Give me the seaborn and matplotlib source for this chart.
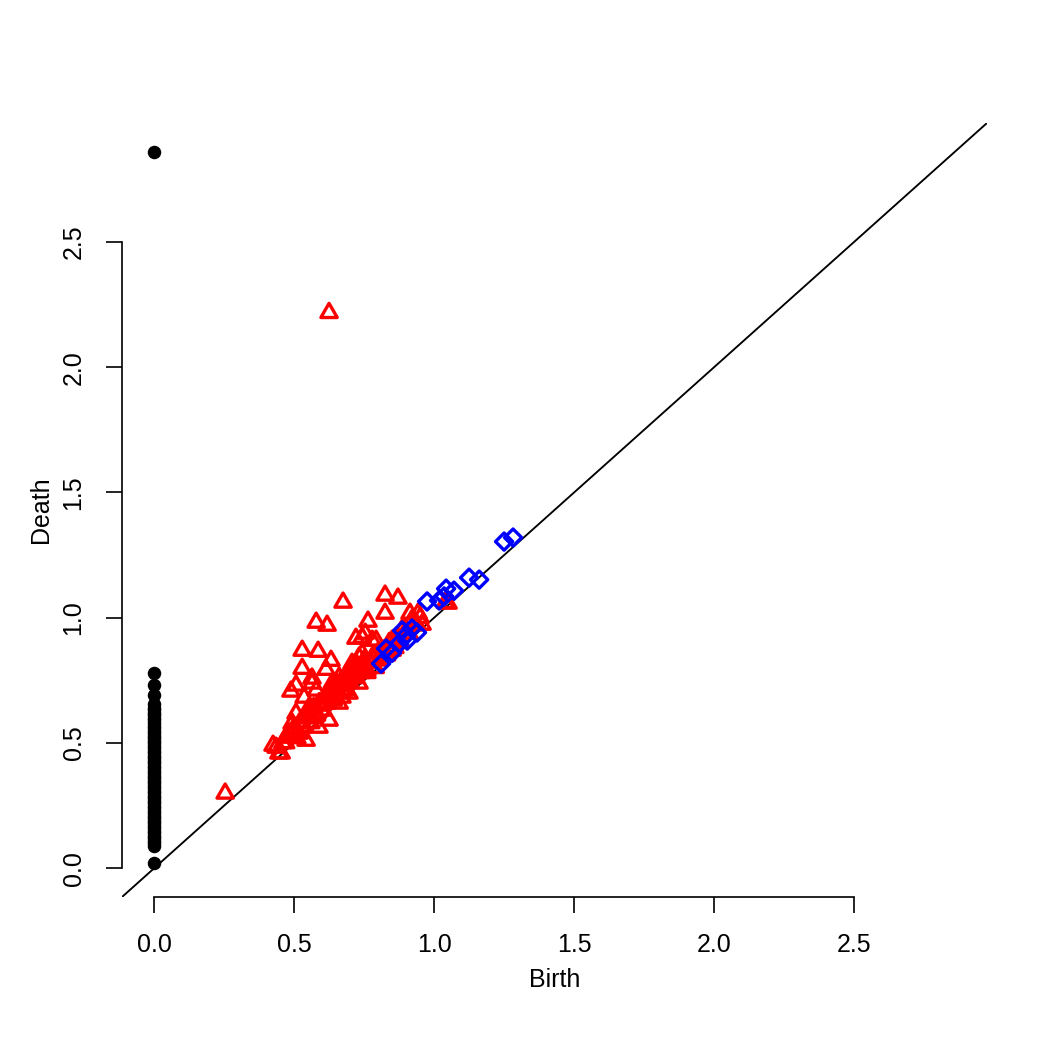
import matplotlib
matplotlib.use("Agg")
import matplotlib.pyplot as plt
from matplotlib.path import Path
import numpy as np
import pandas as pd
import seaborn as sns

# ---- data: persistence diagram (birth, death) ----
# dimension 0 (black dots), all born at 0
dim0_death = [2.86, 0.78, 0.73, 0.69, 0.655, 0.64, 0.63, 0.62, 0.61, 0.60,
              0.59, 0.58, 0.57, 0.56, 0.55, 0.54, 0.53, 0.52, 0.51, 0.50,
              0.49, 0.48, 0.47, 0.46, 0.45, 0.44, 0.43, 0.42, 0.41, 0.40,
              0.39, 0.38, 0.37, 0.36, 0.35, 0.34, 0.33, 0.32, 0.31, 0.30,
              0.29, 0.28, 0.27, 0.26, 0.25, 0.24, 0.23, 0.22, 0.21, 0.20,
              0.19, 0.18, 0.17, 0.16, 0.15, 0.14, 0.13, 0.12, 0.11, 0.10,
              0.09, 0.02]
dim0_birth = [0.0] * len(dim0_death)

# dimension 1 (red triangles)
dim1_birth = [0.625, 0.254, 0.675, 0.579, 0.618, 0.825, 0.871, 0.764, 0.825, 0.914,
              0.943, 0.957, 0.529, 0.586, 0.632, 0.529, 0.489, 0.425, 0.454, 1.050,
              0.743, 0.779, 0.721, 0.754, 0.793, 0.564, 0.614, 0.536, 0.579, 0.636,
              0.686, 0.707, 0.732, 0.671, 0.614, 0.554, 0.507, 0.911, 0.850, 0.814,
              0.850, 0.743, 0.779, 0.721, 0.696, 0.661, 0.671, 0.661, 0.579, 0.625,
              0.529, 0.493, 0.471, 0.543, 0.436, 0.446, 0.518, 0.589, 0.554, 0.625,
              0.696, 0.732, 0.650, 0.564, 0.507, 0.760, 0.790, 0.805, 0.830, 0.860,
              0.880, 0.900, 0.930, 0.700, 0.720, 0.740, 0.770, 0.600, 0.640, 0.480,
              0.500, 0.520, 0.560, 0.460, 0.680, 0.710, 0.810, 0.840, 0.950, 1.040,
              0.470, 0.490, 0.500, 0.510, 0.530, 0.550, 0.560, 0.570, 0.580, 0.590,
              0.600, 0.610, 0.620, 0.630, 0.640, 0.650, 0.660, 0.670, 0.680, 0.690,
              0.700, 0.710, 0.720, 0.730, 0.740, 0.750, 0.760, 0.780, 0.800, 0.820,
              0.840, 0.870, 0.890, 0.920, 0.940]
dim1_death = [2.217, 0.299, 1.061, 0.981, 0.969, 1.089, 1.077, 0.985, 1.017, 1.017,
              1.017, 0.973, 0.869, 0.865, 0.829, 0.797, 0.706, 0.490, 0.459, 1.057,
              0.921, 0.909, 0.917, 0.937, 0.909, 0.758, 0.793, 0.682, 0.710, 0.738,
              0.750, 0.817, 0.841, 0.682, 0.658, 0.630, 0.618, 0.937, 0.909, 0.861,
              0.869, 0.857, 0.841, 0.817, 0.789, 0.762, 0.710, 0.658, 0.618, 0.590,
              0.562, 0.578, 0.522, 0.510, 0.482, 0.459, 0.538, 0.562, 0.642, 0.710,
              0.698, 0.738, 0.738, 0.738, 0.730, 0.780, 0.800, 0.830, 0.850, 0.880,
              0.900, 0.950, 0.980, 0.760, 0.770, 0.800, 0.820, 0.650, 0.690, 0.540,
              0.560, 0.580, 0.600, 0.500, 0.730, 0.760, 0.840, 0.870, 1.000, 1.060,
              0.500, 0.530, 0.550, 0.520, 0.580, 0.600, 0.580, 0.640, 0.610, 0.660,
              0.630, 0.680, 0.660, 0.700, 0.670, 0.720, 0.700, 0.750, 0.710, 0.770,
              0.740, 0.790, 0.760, 0.800, 0.780, 0.830, 0.790, 0.840, 0.860, 0.870,
              0.900, 0.920, 0.960, 0.990, 0.970]

# dimension 2 (blue diamonds)
dim2_birth = [0.811, 0.829, 0.875, 0.886, 0.904, 0.921, 0.939, 0.975, 1.018, 1.043,
              1.071, 1.125, 1.161, 1.250, 1.282, 1.036, 0.850, 0.900]
dim2_death = [0.817, 0.877, 0.897, 0.949, 0.909, 0.957, 0.941, 1.065, 1.069, 1.116,
              1.108, 1.160, 1.152, 1.304, 1.320, 1.085, 0.860, 0.930]

ticks = [0.0, 0.5, 1.0, 1.5, 2.0, 2.5]
tick_labels = ["0.0", "0.5", "1.0", "1.5", "2.0", "2.5"]

# ---- style ----
sns.set_style("ticks")
plt.rcParams['font.family'] = ['Liberation Sans', 'DejaVu Sans']
plt.rcParams['font.size'] = 12

fig = plt.figure(figsize=(7, 7), dpi=150)
ax = fig.add_axes([122 / 1050, 1 - 897 / 1050, 865 / 1050, 774 / 1050])

df0 = pd.DataFrame({"Birth": dim0_birth, "Death": dim0_death})
df1 = pd.DataFrame({"Birth": dim1_birth, "Death": dim1_death})
df2 = pd.DataFrame({"Birth": dim2_birth, "Death": dim2_death})

sns.scatterplot(data=df0, x="Birth", y="Death", ax=ax, marker="o",
                color="black", s=42, linewidth=0, zorder=3)

tri = Path([(-0.866, -0.5), (0.866, -0.5), (0.0, 1.0), (-0.866, -0.5)],
           [Path.MOVETO, Path.LINETO, Path.LINETO, Path.CLOSEPOLY])
sns.scatterplot(data=df1, x="Birth", y="Death", ax=ax, marker=tri,
                color="red", s=82, zorder=4)
c1 = ax.collections[-1]
c1.set_facecolor("none")
c1.set_edgecolor("red")
c1.set_linewidth(1.6)

sns.scatterplot(data=df2, x="Birth", y="Death", ax=ax, marker="D",
                color="blue", s=34, zorder=5)
c2 = ax.collections[-1]
c2.set_facecolor("none")
c2.set_edgecolor("blue")
c2.set_linewidth(1.6)

ax.axline((0, 0), slope=1, color="black", linewidth=0.9, zorder=2)

lo, hi = 0.0, 2.86
ext = 0.04 * (hi - lo)
ax.set_xlim(lo - ext, hi + ext)
ax.set_ylim(lo - ext, hi + ext)

ax.set_xticks(ticks)
ax.set_xticklabels(tick_labels)
ax.set_yticks(ticks)
ax.set_yticklabels(tick_labels, rotation=90, va="center")

for side in ["top", "right"]:
    ax.spines[side].set_visible(False)
for side in ["left", "bottom"]:
    ax.spines[side].set_bounds(0, 2.5)
    ax.spines[side].set_linewidth(0.8)
    ax.spines[side].set_color("black")

ax.tick_params(axis="both", direction="out", length=7.5, width=0.8,
               color="black", labelsize=12, pad=10, labelcolor="black")

ax.set_xlabel("Birth", fontsize=12, labelpad=5, color="black")
ax.set_ylabel("Death", fontsize=12, labelpad=4, color="black")

fig.savefig("out.png", dpi=150, facecolor="white")
